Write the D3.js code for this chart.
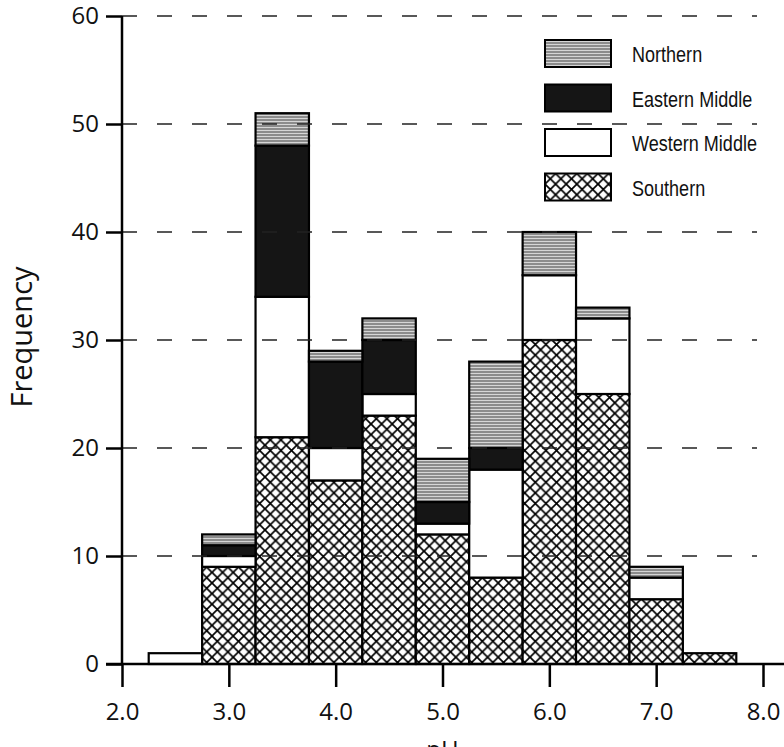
<!DOCTYPE html>
<html>
<head>
<meta charset="utf-8"/>
<style>
  body { margin: 0; background: #fff; }
  svg { display: block; }
  .tick text { font-family: "Open Sans", sans-serif; font-size: 24px; fill: #111; }
</style>
</head>
<body>
<svg id="chart" width="784" height="747"></svg>
<script src="https://d3js.org/d3.v7.min.js"></script>
<script>
// bin centres (pH), bin width 0.5
const bins = [2.5, 3.0, 3.5, 4.0, 4.5, 5.0, 5.5, 6.0, 6.5, 7.0, 7.5];
const southern = [0, 9, 21, 17, 23, 12, 8, 30, 25, 6, 1];
const western  = [1, 1, 13, 3, 2, 1, 10, 6, 7, 2, 0];
const eastern  = [0, 1, 14, 8, 5, 2, 2, 0, 0, 0, 0];
const northern = [0, 1, 3, 1, 2, 4, 8, 4, 1, 1, 0];
const seriesNames = ["Southern", "Western Middle", "Eastern Middle", "Northern"];
const xTicks = [2, 3, 4, 5, 6, 7, 8];
const yTicks = [0, 10, 20, 30, 40, 50, 60];

const svg = d3.select("#chart");
const x = d3.scaleLinear().domain([2, 8]).range([122, 763]);
const y = d3.scaleLinear().domain([0, 60]).range([664, 16]);
const binW = 0.5;

// patterns
const defs = svg.append("defs");
const hatch = defs.append("pattern").attr("id", "hatch")
  .attr("patternUnits", "userSpaceOnUse").attr("width", 10.6).attr("height", 10.6);
hatch.append("rect").attr("width", 10.6).attr("height", 10.6).attr("fill", "#fff");
hatch.append("path").attr("d", "M-1,-1L11.6,11.6M11.6,-1L-1,11.6")
  .attr("stroke", "#000").attr("stroke-width", 1.7);

const gray = defs.append("pattern").attr("id", "gray")
  .attr("patternUnits", "userSpaceOnUse").attr("width", 6).attr("height", 3);
gray.append("rect").attr("width", 6).attr("height", 3).attr("fill", "#8c8c8c");
gray.append("rect").attr("y", 1).attr("width", 6).attr("height", 1).attr("fill", "#d6d6d6");

const fills = {
  "Southern": "url(#hatch)",
  "Western Middle": "#fff",
  "Eastern Middle": "#151515",
  "Northern": "url(#gray)"
};

const rows = bins.map((b, i) => ({
  bin: b,
  "Southern": southern[i],
  "Western Middle": western[i],
  "Eastern Middle": eastern[i],
  "Northern": northern[i]
}));
const stacked = d3.stack().keys(seriesNames)(rows);

// bars
svg.append("g").selectAll("g")
  .data(stacked)
  .join("g")
  .attr("fill", d => fills[d.key])
  .selectAll("rect")
  .data(d => d.filter(s => s[1] > s[0]))
  .join("rect")
  .attr("x", d => x(d.data.bin - binW / 2))
  .attr("width", d => x(d.data.bin + binW / 2) - x(d.data.bin - binW / 2))
  .attr("y", d => y(d[1]))
  .attr("height", d => y(d[0]) - y(d[1]))
  .attr("stroke", "#000")
  .attr("stroke-width", 2.2);

// legend
const legendOrder = ["Northern", "Eastern Middle", "Western Middle", "Southern"];
const lg = svg.append("g").selectAll("g")
  .data(legendOrder)
  .join("g")
  .attr("transform", (d, i) => `translate(545, ${40 + i * 44.5})`);
lg.append("rect")
  .attr("width", 66).attr("height", 27)
  .attr("fill", d => fills[d])
  .attr("stroke", "#000").attr("stroke-width", 2);
lg.append("text")
  .attr("transform", "translate(87, 22) scale(0.82, 1)")
  .attr("font-family", "'Liberation Sans', Arial, sans-serif")
  .attr("font-size", 22)
  .attr("fill", "#111")
  .text(d => d);

// dashed gridlines
svg.append("g").selectAll("line")
  .data(yTicks.filter(v => v > 0))
  .join("line")
  .attr("x1", x(2)).attr("x2", 757)
  .attr("y1", d => y(d)).attr("y2", d => y(d))
  .attr("stroke", "#222").attr("stroke-width", 1.6)
  .attr("stroke-dasharray", "15,20");

// x axis
const xAxis = svg.append("g")
  .attr("transform", `translate(0, ${y(0)})`)
  .call(d3.axisBottom(x).tickValues(xTicks).tickFormat(d3.format(".1f"))
    .tickSize(23).tickSizeOuter(0).tickPadding(16));
xAxis.select(".domain").remove();
xAxis.selectAll(".tick line").attr("stroke", "#000").attr("stroke-width", 2.5);
svg.append("line")
  .attr("x1", 106).attr("x2", 784)
  .attr("y1", y(0)).attr("y2", y(0))
  .attr("stroke", "#000").attr("stroke-width", 2.5);

// y axis
const yAxis = svg.append("g")
  .attr("transform", `translate(${x(2)}, 0)`)
  .call(d3.axisLeft(y).tickValues(yTicks).tickSize(16).tickSizeOuter(0).tickPadding(7));
yAxis.select(".domain").remove();
yAxis.selectAll(".tick line").attr("stroke", "#000").attr("stroke-width", 2.5);
svg.append("line")
  .attr("x1", x(2)).attr("x2", x(2))
  .attr("y1", y(60)).attr("y2", y(0))
  .attr("stroke", "#000").attr("stroke-width", 2.5);

// axis titles
svg.append("text")
  .attr("transform", `translate(32, 337) rotate(-90)`)
  .attr("text-anchor", "middle")
  .attr("font-family", "'Open Sans', sans-serif")
  .attr("font-size", 29)
  .attr("fill", "#111")
  .text("Frequency");

svg.append("text")
  .attr("x", x(5)).attr("y", 758)
  .attr("text-anchor", "middle")
  .attr("font-family", "'Open Sans', sans-serif")
  .attr("font-size", 24)
  .attr("fill", "#111")
  .text("pH");
</script>
</body>
</html>
